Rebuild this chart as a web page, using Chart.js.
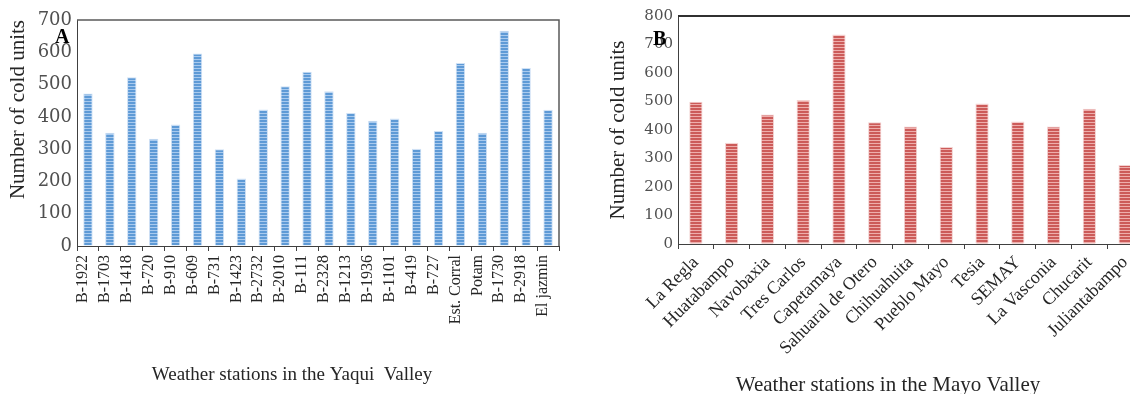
<!DOCTYPE html>
<html>
<head>
<meta charset="utf-8">
<script src="https://cdn.jsdelivr.net/npm/chart.js@4.4.1/dist/chart.umd.min.js"></script>
<style>
  html, body { margin: 0; padding: 0; background: #fff; overflow: hidden; }
  body { width: 1130px; height: 394px; position: relative; }
  canvas { position: absolute; top: 0; }
  #chartA { left: 0; }
  #chartB { left: 600px; }
</style>
</head>
<body>
<canvas id="chartA" width="575" height="394"></canvas>
<canvas id="chartB" width="560" height="394"></canvas>
<script>
'use strict';

// Panel A: Yaqui Valley stations
const yaquiStations = [
  'B-1922', 'B-1703', 'B-1418', 'B-720', 'B-910', 'B-609', 'B-731', 'B-1423',
  'B-2732', 'B-2010', 'B-111', 'B-2328', 'B-1213', 'B-1936', 'B-1101', 'B-419',
  'B-727', 'Est. Corral', 'Potam', 'B-1730', 'B-2918', 'El jazmin',
];
const yaquiColdUnits = [
  472, 351, 523, 332, 376, 596, 300, 209,
  423, 495, 540, 479, 412, 388, 395, 301,
  356, 567, 351, 667, 551, 422,
];
const yaquiTicks = [0, 100, 200, 300, 400, 500, 600, 700];

// Panel B: Mayo Valley stations
const mayoStations = [
  'La Regla', 'Huatabampo', 'Navobaxia', 'Tres Carlos', 'Capetamaya',
  'Sahuaral de Otero', 'Chihuahuita', 'Pueblo Mayo', 'Tesia', 'SEMAY',
  'La Vasconia', 'Chucarit', 'Juliantabampo',
];
const mayoColdUnits = [
  499, 355, 454, 505, 735, 427, 412, 340, 493, 430, 412, 475, 277,
];
const mayoTicks = [0, 100, 200, 300, 400, 500, 600, 700, 800];

const SERIF = '"Liberation Serif", "Times New Roman", serif';
const AXIS_GREY = '#404040';

// striped fill like the original bars (light line every third row)
function stripes(base, light) {
  const c = document.createElement('canvas');
  c.width = 4;
  c.height = 3;
  const g = c.getContext('2d');
  g.fillStyle = base;
  g.fillRect(0, 0, 4, 3);
  g.fillStyle = light;
  g.fillRect(0, 2, 4, 1);
  return g.createPattern(c, 'repeat');
}

// frame round the plot area plus free text (panel letter, x title)
const framePlugin = {
  id: 'frame',
  afterDatasetsDraw(chart, args, opts) {
    const { ctx, chartArea } = chart;
    ctx.save();
    ctx.strokeStyle = opts.color;
    ctx.lineWidth = opts.width;
    ctx.beginPath();
    ctx.moveTo(chartArea.left, chartArea.top);
    ctx.lineTo(chartArea.right, chartArea.top);
    ctx.lineTo(chartArea.right, chartArea.bottom);
    ctx.stroke();
    ctx.restore();
  },
  afterDraw(chart, args, opts) {
    const ctx = chart.ctx;
    ctx.save();
    (opts.texts || []).forEach(t => {
      ctx.font = t.font;
      ctx.fillStyle = t.color || '#000';
      ctx.textAlign = t.align || 'left';
      ctx.textBaseline = t.baseline || 'alphabetic';
      ctx.fillText(t.text, t.x, t.y);
    });
    ctx.restore();
  },
};

function makeChart(el, cfg) {
  return new Chart(el.getContext('2d'), {
    type: 'bar',
    data: {
      labels: cfg.labels,
      datasets: [{
        data: cfg.values,
        backgroundColor: cfg.fill,
        borderColor: cfg.edge,
        borderWidth: 1,
        barPercentage: cfg.barPct,
        categoryPercentage: 1,
      }],
    },
    options: {
      responsive: false,
      animation: false,
      devicePixelRatio: 1,
      layout: { padding: cfg.padding },
      plugins: {
        legend: { display: false },
        tooltip: { enabled: false },
        frame: { color: cfg.frameColor, width: cfg.frameWidth, texts: cfg.texts },
      },
      scales: {
        x: {
          afterFit: s => { s.height = cfg.xHeight; },
          grid: {
            offset: true,
            drawOnChartArea: false,
            drawTicks: true,
            tickLength: 5,
            color: AXIS_GREY,
          },
          border: { display: true, color: AXIS_GREY, width: 1 },
          ticks: {
            autoSkip: false,
            minRotation: cfg.rotation,
            maxRotation: cfg.rotation,
            labelOffset: cfg.labelOffset,
            padding: cfg.labelPad,
            color: '#262626',
            font: { family: SERIF, size: cfg.xFont },
          },
        },
        y: {
          min: 0,
          max: cfg.yTicks[cfg.yTicks.length - 1],
          afterFit: s => { s.width = cfg.yWidth; },
          afterBuildTicks: s => { s.ticks = cfg.yTicks.map(v => ({ value: v })); },
          grid: { drawOnChartArea: false, drawTicks: false },
          border: { display: true, color: AXIS_GREY, width: 1 },
          ticks: {
            padding: 5,
            color: '#505050',
            font: { family: '"DejaVu Serif", serif', size: cfg.yFont },
          },
          title: {
            display: true,
            text: 'Number of cold units',
            align: cfg.yTitleAlign,
            color: '#262626',
            padding: { top: 6, bottom: 0 },
            font: { family: SERIF, size: 21 },
          },
        },
      },
    },
    plugins: [framePlugin],
  });
}

makeChart(document.getElementById('chartA'), {
  labels: yaquiStations,
  values: yaquiColdUnits,
  yTicks: yaquiTicks,
  fill: stripes('#5e9ad6', '#a9caee'),
  edge: '#cfe1f5',
  barPct: 0.43,
  padding: { top: 20, right: 16, left: 0, bottom: 0 },
  yWidth: 77,
  xHeight: 148,
  rotation: 90,
  labelOffset: -5,
  labelPad: 4,
  xFont: 16,
  yFont: 18,
  yTitleAlign: 'end',
  frameColor: '#595959',
  frameWidth: 1.5,
  texts: [
    { text: 'A', x: 55, y: 43, font: 'bold 20px ' + SERIF },
    { text: 'Weather stations in the Yaqui  Valley', x: 292, y: 375,
      align: 'center', baseline: 'middle', font: '19px ' + SERIF, color: '#262626' },
  ],
});

makeChart(document.getElementById('chartB'), {
  labels: mayoStations,
  values: mayoColdUnits,
  yTicks: mayoTicks,
  fill: stripes('#cc5b59', '#eeaeac'),
  edge: '#f3d2d1',
  barPct: 0.37,
  padding: { top: 16, right: 17, left: 0, bottom: 0 },
  yWidth: 78,
  xHeight: 150,
  rotation: 45,
  labelOffset: 0,
  labelPad: 3,
  xFont: 18,
  yFont: 15,
  yTitleAlign: 'center',
  frameColor: '#303030',
  frameWidth: 2,
  texts: [
    { text: 'B', x: 53, y: 45, font: 'bold 20px ' + SERIF },
    { text: 'Weather stations in the Mayo Valley', x: 288, y: 385,
      align: 'center', baseline: 'middle', font: '21px ' + SERIF, color: '#262626' },
  ],
});
</script>
</body>
</html>
